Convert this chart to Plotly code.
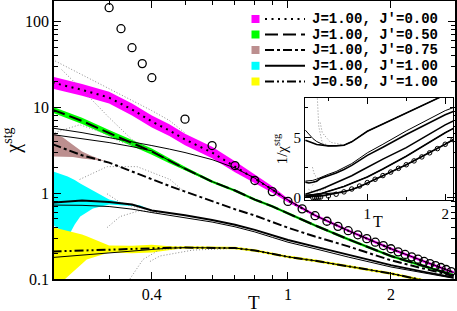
import plotly.graph_objects as go

W, H = 457, 311
ML, MR, MT, MB = 54, 2, 1, 32

# ---------------- data ----------------
T_grid = [0.205, 0.25, 0.3, 0.35, 0.4, 0.45, 0.5, 0.6, 0.7, 0.8, 0.9, 1.0, 1.2, 1.5, 2.0, 2.5, 3.05]

# J=1.00, J'=0.00  (magenta band, dotted)
chi_j00 = [19.3, 15.9, 12.9, 9.4, 6.8, 5.35, 4.2, 2.96, 2.03, 1.47, 1.10, 0.82, 0.55, 0.365, 0.225, 0.16, 0.119]
chi_j00_hi = [22.6, 18.6, 15.1, 11.0, 8.0, 6.3, 4.9, 3.45, 2.35, 1.65, 1.20, 0.86, 0.56, 0.367, 0.226, 0.161, 0.1195]
chi_j00_lo = [16.4, 13.6, 11.0, 8.0, 5.8, 4.6, 3.6, 2.55, 1.75, 1.31, 1.01, 0.78, 0.54, 0.363, 0.224, 0.159, 0.1185]

# J=1.00, J'=0.50  (green band, dashed)
chi_j05 = [9.35, 6.9, 5.0, 3.85, 3.04, 2.38, 1.92, 1.36, 1.07, 0.84, 0.70, 0.58, 0.42, 0.29, 0.185, 0.141, 0.111]
chi_j05_hi = [10.1, 7.5, 5.42, 4.17, 3.3, 2.55, 2.02, 1.39, 1.08, 0.84, 0.70, 0.58, 0.42, 0.29, 0.185, 0.141, 0.111]
chi_j05_lo = [8.6, 6.35, 4.6, 3.55, 2.8, 2.22, 1.83, 1.33, 1.06, 0.84, 0.70, 0.58, 0.42, 0.29, 0.185, 0.141, 0.111]

# J=1.00, J'=0.75  (rosy band, dash-dot)
chi_j075 = [3.7, 2.75, 2.26, 1.8, 1.45, 1.21, 1.04, 0.80, 0.648, 0.548, 0.46, 0.395, 0.312, 0.24, 0.165, 0.132, 0.108]
T_rosy = [0.205, 0.22, 0.235, 0.25, 0.265, 0.28, 0.29]
rosy_hi = [5.05, 4.42, 3.66, 3.04, 2.73, 2.5, 2.38]
rosy_lo = [2.66, 2.66, 2.62, 2.52, 2.45, 2.42, 2.36]

# J=1.00, J'=1.00  (cyan band, solid)
chi_j10 = [0.776, 0.818, 0.786, 0.735, 0.626, 0.586, 0.551, 0.487, 0.428, 0.373, 0.322, 0.284, 0.238, 0.19, 0.145, 0.121, 0.104]
T_cyan = [0.205, 0.218, 0.227, 0.238, 0.247, 0.269, 0.3, 0.334, 0.369, 0.4]
cyan_hi = [1.80, 1.65, 1.56, 1.42, 1.29, 1.07, 0.84, 0.755, 0.72, 0.628]
cyan_lo = [0.43, 0.36, 0.305, 0.43, 0.533, 0.66, 0.735, 0.72, 0.70, 0.624]

# J=0.50, J'=1.00  (yellow band, dash-dot-dot)
chi_j05b = [0.209, 0.215, 0.22, 0.226, 0.229, 0.231, 0.232, 0.232, 0.229, 0.215, 0.197, 0.181, 0.163, 0.141, 0.116, 0.096, 0.085]
T_yel = [0.205, 0.223, 0.25, 0.258, 0.3, 0.35, 0.4, 0.45, 0.5]
yel_hi = [0.40, 0.37, 0.33, 0.315, 0.245, 0.243, 0.25, 0.24, 0.233]
yel_lo = [0.07, 0.10, 0.15, 0.169, 0.203, 0.20, 0.204, 0.218, 0.229]

# thin black curves
thin_a = [5.7, 5.05, 4.42, 3.97, 3.57, 3.25, 2.96, 2.45, 1.96, 1.49, 1.10, 0.83, 0.55, 0.365, 0.225, 0.16, 0.119]
thin_b = [4.79, 4.3, 3.87, 3.47, 3.1, 2.38, 1.92, 1.36, 1.07, 0.84, 0.70, 0.58, 0.42, 0.29, 0.185, 0.141, 0.111]
thin_c = [0.725, 0.72, 0.697, 0.65, 0.593, 0.55, 0.515, 0.46, 0.405, 0.353, 0.305, 0.268, 0.225, 0.18, 0.138, 0.117, 0.102]
thin_d = [0.178, 0.19, 0.203, 0.214, 0.223, 0.229, 0.232, 0.232, 0.229, 0.215, 0.197, 0.181, 0.163, 0.141, 0.116, 0.096, 0.085]

# gray dotted (truncated series) curves
dot_curves = [
    ([0.205, 0.25, 0.3, 0.35, 0.4, 0.45, 0.5], [35.7, 23.9, 16.4, 11.9, 9.1, 7.0, 5.0]),
    ([0.218, 0.25, 0.3, 0.35, 0.4], [27.3, 16.0, 7.55, 4.19, 3.04]),
    ([0.208, 0.246, 0.282, 0.323, 0.357], [5.05, 6.24, 5.19, 3.97, 3.6]),
    ([0.246, 0.296, 0.362, 0.452, 0.5], [1.44, 2.03, 2.03, 1.44, 1.02]),
    ([0.296, 0.323, 0.369, 0.422], [0.397, 0.533, 0.626, 0.585]),
    ([0.296, 0.323, 0.369], [0.98, 0.78, 0.66]),
    ([0.345, 0.377, 0.422, 0.5], [0.10, 0.169, 0.22, 0.229]),
    ([0.395, 0.422, 0.527, 0.69], [0.16, 0.185, 0.217, 0.227]),
]

# open circles
T_circ = [0.3, 0.325, 0.35, 0.375, 0.4, 0.5, 0.6, 0.7, 0.8, 0.9, 1.0, 1.1, 1.2, 1.3, 1.4, 1.5, 1.6,
          1.7, 1.8, 1.9, 2.0, 2.1, 2.2, 2.3, 2.4, 2.5, 2.6, 2.7, 2.8, 2.9, 3.0]
chi_circ = [143.6, 81.8, 49.2, 32.1, 22.0, 7.25, 3.57, 2.09, 1.40, 1.04, 0.80, 0.655, 0.545, 0.47, 0.41,
            0.365, 0.327, 0.295, 0.268, 0.245, 0.225, 0.207, 0.193, 0.181, 0.17, 0.16, 0.151, 0.143,
            0.136, 0.129, 0.122]

legend_labels = ["J=1.00, J\u2032=0.00", "J=1.00, J\u2032=0.50", "J=1.00, J\u2032=0.75",
                 "J=1.00, J\u2032=1.00", "J=0.50, J\u2032=1.00"]
band_colors = ["#ff00ff", "#00ff00", "#bc8f8f", "#00ffff", "#ffff00"]
dash_styles = ["2px,4.5px", "13px,5px", "9px,3px,3px,3px", "solid", "9px,3px,2px,3px,2px,3px"]

x_ticks_main = [0.4, 1, 2]
x_minor_main = [0.3, 0.5, 0.6, 0.7, 0.8, 0.9]
y_ticks_main = [0.1, 1, 10, 100]
y_minor_main = [m * d for d in (0.1, 1, 10) for m in range(2, 10)]

# ---------------- figure ----------------
fig = go.Figure()

def band(T, lo, hi, color, xa="x", ya="y"):
    fig.add_trace(go.Scatter(x=T, y=lo, mode="lines", line=dict(width=0, color=color),
                             hoverinfo="skip", showlegend=False, xaxis=xa, yaxis=ya))
    fig.add_trace(go.Scatter(x=T, y=hi, mode="lines", line=dict(width=0, color=color),
                             fill="tonexty", fillcolor=color, hoverinfo="skip",
                             showlegend=False, xaxis=xa, yaxis=ya))

band(T_grid, chi_j00_lo, chi_j00_hi, band_colors[0])
band(T_grid, chi_j05_lo, chi_j05_hi, band_colors[1])
band(T_rosy, rosy_lo, rosy_hi, band_colors[2])
band(T_cyan, cyan_lo, cyan_hi, band_colors[3])
band(T_yel, yel_lo, yel_hi, band_colors[4])

# colour cores under the black lines
for vals, col in [(chi_j00, band_colors[0]), (chi_j05, band_colors[1]), (chi_j05b, band_colors[4])]:
    fig.add_trace(go.Scatter(x=T_grid, y=vals, mode="lines", line=dict(color=col, width=2.5),
                             hoverinfo="skip", showlegend=False))

for Tx, vals in dot_curves:
    fig.add_trace(go.Scatter(x=Tx, y=vals, mode="lines",
                             line=dict(color="#8c8c8c", width=1, dash="1px,2px"),
                             hoverinfo="skip", showlegend=False))

for vals in (thin_a, thin_b, thin_c, thin_d):
    fig.add_trace(go.Scatter(x=T_grid, y=vals, mode="lines", line=dict(color="black", width=1),
                             hoverinfo="skip", showlegend=False))

main_curves = [chi_j00, chi_j05, chi_j075, chi_j10, chi_j05b]
for vals, dsh in zip(main_curves, dash_styles):
    fig.add_trace(go.Scatter(x=T_grid, y=vals, mode="lines",
                             line=dict(color="black", width=2, dash=dsh),
                             hoverinfo="skip", showlegend=False))

fig.add_trace(go.Scatter(x=T_circ, y=chi_circ, mode="markers",
                         marker=dict(symbol="circle-open", size=8, color="black",
                                     line=dict(width=1.3, color="black")),
                         hoverinfo="skip", showlegend=False))

# ---------------- inset: 1/chi ----------------
def inv(v):
    return [1.0 / a for a in v]

for Tx, vals in dot_curves:
    fig.add_trace(go.Scatter(x=Tx, y=inv(vals), mode="lines",
                             line=dict(color="#8c8c8c", width=1, dash="1px,2px"),
                             hoverinfo="skip", showlegend=False, xaxis="x2", yaxis="y2"))
for vals in (thin_a, thin_b, thin_c, thin_d):
    fig.add_trace(go.Scatter(x=T_grid, y=inv(vals), mode="lines", line=dict(color="black", width=1),
                             hoverinfo="skip", showlegend=False, xaxis="x2", yaxis="y2"))
for vals in main_curves:
    fig.add_trace(go.Scatter(x=T_grid, y=inv(vals), mode="lines", line=dict(color="black", width=1.6),
                             hoverinfo="skip", showlegend=False, xaxis="x2", yaxis="y2"))
fig.add_trace(go.Scatter(x=T_circ, y=inv(chi_circ), mode="markers",
                         marker=dict(symbol="circle-open", size=4.5, color="black",
                                     line=dict(width=1, color="black")),
                         hoverinfo="skip", showlegend=False, xaxis="x2", yaxis="y2"))

# ---------------- layout ----------------
pw = W - ML - MR
ph = H - MT - MB

def px(xp):
    return (xp - ML) / pw

def py(yp):
    return (H - MB - yp) / ph

serif = "Liberation Serif"
mono = "Liberation Mono"
axis_common = dict(showline=True, linecolor="black", linewidth=1.5, mirror="ticks",
                   ticks="inside", tickcolor="black", tickwidth=1.2, showgrid=False,
                   zeroline=False, automargin=False,
                   tickfont=dict(family=serif, size=16, color="black"))
inset_common = {**axis_common, "tickfont": dict(family=serif, size=15, color="black"), "linewidth": 1.2}

fig.update_layout(
    width=W, height=H, margin=dict(l=ML, r=MR, t=MT, b=MB, autoexpand=False),
    paper_bgcolor="white", plot_bgcolor="white", showlegend=False,
    font=dict(family=serif, color="black"),
    xaxis=dict(type="log", range=[-0.684, 0.4883], tickvals=x_ticks_main,
               ticktext=[str(v) for v in x_ticks_main], ticklen=7,
               minor=dict(tickvals=x_minor_main, ticklen=4, ticks="inside", tickcolor="black"),
               **axis_common),
    yaxis=dict(type="log", range=[-1, 2.235], tickvals=y_ticks_main,
               ticktext=[str(v) for v in y_ticks_main], ticklen=7,
               minor=dict(tickvals=y_minor_main, ticklen=4, ticks="inside", tickcolor="black"),
               title=dict(text="\u03c7<sup>stg</sup>", font=dict(family=serif, size=20, color="black"),
                          standoff=4),
               **axis_common),
    xaxis2=dict(domain=[px(305), px(453)], anchor="y2", range=[0.2, 2.1], tickvals=[1, 2],
                ticktext=["1", "2"], ticklen=6,
                minor=dict(tickvals=[0.5, 1.5], ticklen=3, ticks="inside", tickcolor="black"),
                **inset_common),
    yaxis2=dict(domain=[py(200), py(98)], anchor="x2", range=[-0.2, 8.3], tickvals=[0, 5],
                ticktext=["0", "5"], ticklen=6,
                minor=dict(tickvals=[2.5, 7.5], ticklen=3, ticks="inside", tickcolor="black"),
                title=dict(text="1/\u03c7<sup>stg</sup>", font=dict(family=serif, size=15, color="black"),
                           standoff=2),
                **inset_common),
)

# manual legend and axis-title texts
row_y = [19, 34.5, 50, 65.8, 81.5]
shapes = []
annotations = []
for i, (lab, col, dsh) in enumerate(zip(legend_labels, band_colors, dash_styles)):
    yc = row_y[i]
    shapes.append(dict(type="rect", xref="paper", yref="paper",
                       x0=px(251.5), x1=px(259.5), y0=py(yc + 4), y1=py(yc - 4),
                       fillcolor=col, line=dict(width=0)))
    shapes.append(dict(type="line", xref="paper", yref="paper",
                       x0=px(265), x1=px(305), y0=py(yc), y1=py(yc),
                       line=dict(color="black", width=2, dash=dsh)))
    annotations.append(dict(xref="paper", yref="paper", x=px(311), y=py(yc), xanchor="left",
                            yanchor="middle", showarrow=False, borderpad=0,
                            text="<b>" + lab + "</b>",
                            font=dict(family=mono, size=14, color="black")))
annotations.append(dict(xref="paper", yref="paper", x=px(254), y=py(302), xanchor="center",
                        yanchor="middle", showarrow=False, text="T",
                        font=dict(family=serif, size=19, color="black")))
annotations.append(dict(xref="paper", yref="paper", x=px(378), y=py(221), xanchor="center",
                        yanchor="middle", showarrow=False, text="T",
                        font=dict(family=serif, size=16, color="black")))
fig.update_layout(shapes=shapes, annotations=annotations)

fig.write_html("out.html", config={"displayModeBar": False},
               post_script="document.body.style.margin='0';document.body.style.overflow='hidden';")
